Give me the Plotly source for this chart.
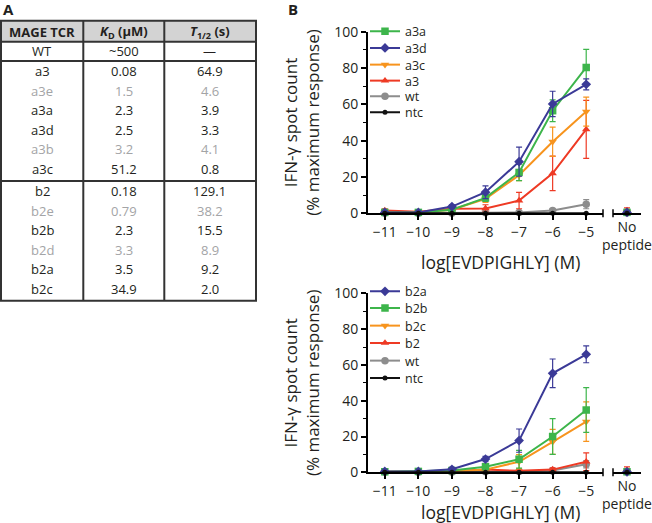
import plotly.graph_objects as go

W, H = 652, 523
FONT = "Open Sans"

# ---------------- data ----------------
log_conc = [-11, -10, -9, -8, -7, -6, -5]
no_pep_cat = ["No peptide"]

# Panel B top
top_names = ["a3a", "a3d", "a3c", "a3", "wt", "ntc"]
a3a = [0.5, 0.5, 2.0, 8.5, 22.5, 56.5, 80.3]
a3a_err = [0.5, 0.5, 1.0, 2.0, 4.5, 6.0, 10.0]
a3d = [0.5, 0.5, 3.7, 11.6, 28.4, 60.2, 71.0]
a3d_err = [0.5, 0.5, 1.0, 3.5, 8.0, 7.0, 3.0]
a3c = [0.5, 0.5, 2.0, 8.0, 21.0, 39.4, 56.0]
a3c_err = [0.5, 0.5, 1.0, 2.0, 3.0, 8.0, 8.0]
a3 = [1.5, 0.8, 2.5, 2.7, 7.0, 22.0, 46.2]
a3_err = [1.0, 0.5, 1.0, 2.0, 4.5, 9.5, 16.0]
wt_top = [0.0, 0.0, 0.0, 0.3, 0.5, 1.5, 5.0]
wt_top_err = [0.0, 0.0, 0.0, 0.3, 0.5, 1.0, 2.5]
ntc_top = [0, 0, 0, 0, 0, 0, 0]
ntc_top_err = [0, 0, 0, 0, 0, 0, 0]
top_nopep = [0.5, 0.5, 0.5, 1.5, 0.3, 0.0]
top_nopep_err = [0.5, 0.5, 0.5, 1.5, 0.3, 0.0]

# Panel B bottom
bot_names = ["b2a", "b2b", "b2c", "b2", "wt", "ntc"]
b2a = [0.5, 0.5, 1.7, 7.4, 17.7, 55.3, 65.9]
b2a_err = [0.5, 0.5, 1.0, 1.5, 6.5, 8.0, 4.7]
b2b = [0.3, 0.5, 1.0, 3.1, 7.3, 20.0, 34.8]
b2b_err = [0.3, 0.5, 0.5, 1.0, 5.0, 10.0, 12.5]
b2c = [0.3, 0.3, 0.5, 1.5, 5.9, 17.0, 28.3]
b2c_err = [0.3, 0.3, 0.5, 1.0, 4.0, 7.0, 11.0]
b2 = [0.3, 0.3, 0.5, 1.5, 0.8, 1.5, 5.9]
b2_err = [0.3, 0.3, 0.3, 0.5, 0.5, 1.0, 5.0]
wt_bot = [0.0, 0.0, 0.0, 0.3, 0.5, 1.0, 4.5]
wt_bot_err = [0.0, 0.0, 0.0, 0.3, 0.5, 1.0, 2.0]
ntc_bot = [0, 0, 0, 0, 0, 0, 0]
ntc_bot_err = [0, 0, 0, 0, 0, 0, 0]
bot_nopep = [0.3, 0.3, 0.3, 1.0, 0.3, 0.0]
bot_nopep_err = [0.3, 0.3, 0.3, 2.0, 0.3, 0.0]

y_ticks = [0, 20, 40, 60, 80, 100]

# Panel A table
tcr_names = ["WT", "a3", "a3e", "a3a", "a3d", "a3b", "a3c",
             "b2", "b2e", "b2b", "b2d", "b2a", "b2c"]
kd_values = ["~500", "0.08", "1.5", "2.3", "2.5", "3.2", "51.2",
             "0.18", "0.79", "2.3", "3.3", "3.5", "34.9"]
t_half = ["\u2014", "64.9", "4.6", "3.9", "3.3", "4.1", "0.8",
          "129.1", "38.2", "15.5", "8.9", "9.2", "2.0"]
greyed = [False, False, True, False, False, True, False,
          False, True, False, True, False, False]
table_header = ["<b>MAGE TCR</b>", "<b><i>K</i><sub>D</sub> (\u03bcM)</b>",
                "<b><i>T</i><sub>1/2</sub> (s)</b>"]

# ---------------- styles ----------------
GREEN, BLUE, ORANGE, RED, GREY, BLACK = "#3db54b", "#3b3a97", "#f7941e", "#ee3a24", "#8d8d8d", "#111111"
top_styles = [(GREEN, "square"), (BLUE, "diamond"), (ORANGE, "triangle-down"),
              (RED, "triangle-up"), (GREY, "circle"), (BLACK, "circle")]
bot_styles = [(BLUE, "diamond"), (GREEN, "square"), (ORANGE, "triangle-down"),
              (RED, "triangle-up"), (GREY, "circle"), (BLACK, "circle")]
txt = "#231f20"


def fx(px):
    return px / W


def fy(py):
    return 1 - py / H


def legend_id(k):
    return "legend" if k == 1 else "legend%d" % k


fig = go.Figure()


def add_panel(names, series, errs, nopep, nopep_err, styles, xa, xa_np, ya, leg_offset, draw_order):
    for i in draw_order:
        col, sym = styles[i]
        size = 5 if names[i] == "ntc" else 7.5
        lg = legend_id(leg_offset + i + 1)
        fig.add_trace(go.Scatter(
            x=log_conc, y=series[i], name=names[i], mode="lines+markers",
            line=dict(color=col, width=2), marker=dict(color=col, symbol=sym, size=size),
            error_y=dict(type="data", array=errs[i], color=col, thickness=1.2, width=3),
            xaxis=xa, yaxis=ya, legend=lg, legendgroup=lg,
            cliponaxis=False))
        fig.add_trace(go.Scatter(
            x=no_pep_cat, y=[nopep[i]], name=names[i], mode="markers",
            marker=dict(color=col, symbol=sym, size=size),
            error_y=dict(type="data", array=[nopep_err[i]], color=col, thickness=1.2, width=3),
            xaxis=xa_np, yaxis=ya, legend=lg, legendgroup=lg,
            showlegend=False, cliponaxis=False))


add_panel(top_names, [a3a, a3d, a3c, a3, wt_top, ntc_top],
          [a3a_err, a3d_err, a3c_err, a3_err, wt_top_err, ntc_top_err],
          top_nopep, top_nopep_err, top_styles, "x", "x2", "y", 0, [4, 3, 2, 0, 1, 5])
add_panel(bot_names, [b2a, b2b, b2c, b2, wt_bot, ntc_bot],
          [b2a_err, b2b_err, b2c_err, b2_err, wt_bot_err, ntc_bot_err],
          bot_nopep, bot_nopep_err, bot_styles, "x3", "x4", "y2", 6, [4, 3, 2, 1, 0, 5])

# ---------------- axes ----------------
tickfont = dict(family=FONT, size=14, color=txt)
main_dom = [fx(368), fx(603)]
np_dom = [fx(613), fx(641)]
top_dom = [fy(213.3), fy(31.7)]
bot_dom = [fy(472.3), fy(293.3)]

xmain = dict(range=[-11.5, -4.5], showline=True, linewidth=2, linecolor="black",
             ticks="outside", ticklen=5, tickwidth=1.5, tickcolor="black",
             tickvals=log_conc, tickfont=tickfont, showgrid=False, zeroline=False,
             automargin=False)
xnp = dict(type="category", range=[-0.5, 0.5], showline=True, linewidth=2, linecolor="black",
           ticks="", tickvals=no_pep_cat, ticktext=["No<br>peptide"], tickfont=tickfont,
           showgrid=False, zeroline=False, automargin=False)
ytitle = dict(text="IFN-\u03b3 spot count<br>(% maximum response)",
              font=dict(family=FONT, size=17, color=txt), standoff=10)
ymain = dict(range=[0, 100], showline=True, linewidth=2, linecolor="black",
             ticks="outside", ticklen=5, tickwidth=1.5, tickcolor="black",
             tickvals=y_ticks, tickfont=tickfont, showgrid=False, zeroline=False,
             minor=dict(dtick=10, ticks="outside", ticklen=3, tickwidth=1, tickcolor="black"),
             title=ytitle, automargin=False)

fig.update_layout(
    template="none",
    xaxis=dict(domain=main_dom, anchor="y", **xmain),
    xaxis2=dict(domain=np_dom, anchor="y", **xnp),
    yaxis=dict(domain=top_dom, anchor="x", **ymain),
    xaxis3=dict(domain=main_dom, anchor="y2", **xmain),
    xaxis4=dict(domain=np_dom, anchor="y2", **xnp),
    yaxis2=dict(domain=bot_dom, anchor="x3", **ymain),
)

# ---------------- legends (one per entry, stacked) ----------------
legfont = dict(family=FONT, size=12.5, color=txt)
top_leg_y = [31.7, 48.3, 65.0, 81.0, 96.7, 112.7]
bot_leg_y = [291.7, 308.3, 326.0, 343.3, 361.0, 378.3]
legends = {}
for k, yc in enumerate(top_leg_y + bot_leg_y):
    legends[legend_id(k + 1)] = dict(x=fx(365), y=fy(yc), xanchor="left", yanchor="middle",
                                     font=legfont, bgcolor="rgba(0,0,0,0)", borderwidth=0,
                                     itemwidth=30, tracegroupgap=0)
fig.update_layout(**legends)

# ---------------- annotations / shapes ----------------
ann = []
shapes = []


def label(text, xc, yc, size, color=txt):
    ann.append(dict(x=fx(xc), y=fy(yc), xref="paper", yref="paper", text=text,
                    xanchor="center", yanchor="middle", showarrow=False,
                    font=dict(family=FONT, size=size, color=color)))


label("<b>A</b>", 8, 9, 15)
label("<b>B</b>", 293, 9, 15)
for yc in (261.7, 512):
    label("log[EVDPIGHLY] (M)", 500, yc, 17.5)

# axis break marks
for y0 in (213.3, 472.3):
    for xb in (603, 613):
        shapes.append(dict(type="line", xref="paper", yref="paper", x0=fx(xb), x1=fx(xb),
                           y0=fy(y0 - 4), y1=fy(y0 + 4), line=dict(color="black", width=1.5)))

# table
tl, tr, tt, tb = 1, 256, 20.7, 300.7
hdr_b, wt_b, a_b = 41.7, 61, 181
col_div = [83.3, 164.3]
col_centers = [42, 124, 210]
line_col = "#333333"
shapes.append(dict(type="rect", xref="paper", yref="paper", x0=fx(tl), x1=fx(tr), y0=fy(hdr_b), y1=fy(tt),
                   fillcolor="#d3d3d3", line=dict(width=0), layer="below"))
shapes.append(dict(type="rect", xref="paper", yref="paper", x0=fx(tl), x1=fx(tr), y0=fy(tb), y1=fy(tt),
                   line=dict(color=line_col, width=2)))
for xd in col_div:
    shapes.append(dict(type="line", xref="paper", yref="paper", x0=fx(xd), x1=fx(xd), y0=fy(tb), y1=fy(tt),
                       line=dict(color=line_col, width=2)))
for yd in (hdr_b, wt_b, a_b):
    shapes.append(dict(type="line", xref="paper", yref="paper", x0=fx(tl), x1=fx(tr), y0=fy(yd), y1=fy(yd),
                       line=dict(color=line_col, width=2)))

tfont = 13
for j, h in enumerate(table_header):
    label(h, col_centers[j], 31.7, tfont)
row_y = [51.3]
row_y += [71 + 19.5 * k for k in range(6)]
row_y += [191 + 19.6 * k for k in range(6)]
for i, name in enumerate(tcr_names):
    c = "#a3a4a6" if greyed[i] else txt
    for j, v in enumerate([name, kd_values[i], t_half[i]]):
        label(v, col_centers[j], row_y[i], tfont, c)

fig.update_layout(width=W, height=H, margin=dict(l=0, r=0, t=0, b=0, pad=0),
                  paper_bgcolor="white", plot_bgcolor="rgba(0,0,0,0)",
                  annotations=ann, shapes=shapes, font=dict(family=FONT, color=txt))

fig.write_html("out.html", config={"displayModeBar": False},
               post_script="document.body.style.margin='0';")
